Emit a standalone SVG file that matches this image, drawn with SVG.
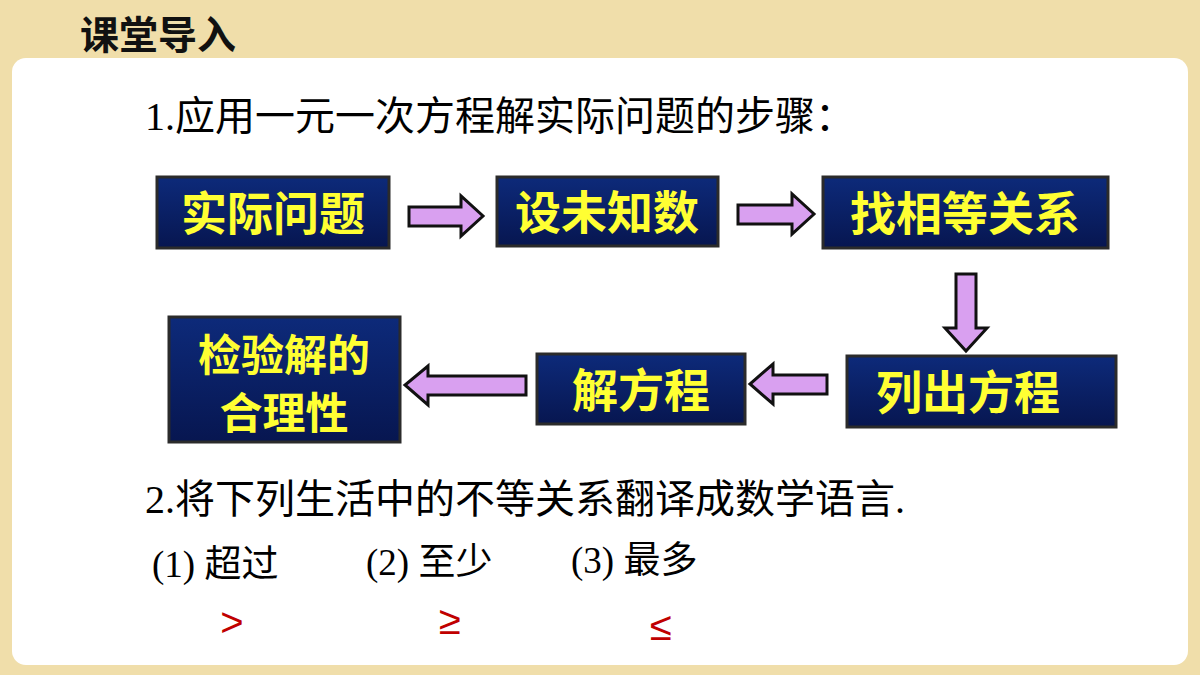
<svg xmlns="http://www.w3.org/2000/svg" width="1200" height="675" viewBox="0 0 1200 675">
<defs>
<linearGradient id="bg" x1="0" y1="0" x2="0" y2="1"><stop offset="0" stop-color="#0d2a7a"/><stop offset="1" stop-color="#071650"/></linearGradient>
<style>
.box{fill:url(#bg);stroke:#2b2b2b;stroke-width:3}
.bt{font-family:"Noto Sans CJK SC",sans-serif;font-weight:bold;font-size:46px;fill:#ffff33;text-anchor:middle}
.bt2{font-size:43px}
.arr{fill:#d9a0f0;stroke:#111;stroke-width:3;stroke-linejoin:miter}
.tx{font-family:"Liberation Serif","Noto Sans CJK SC",serif;font-size:40px;fill:#000}
.sub{font-family:"Liberation Serif","Noto Sans CJK SC",serif;font-size:37px;fill:#000}
.red{font-family:"Liberation Sans",sans-serif;font-size:40px;fill:#c00000;text-anchor:middle}
</style>
</defs>
<rect width="1200" height="675" fill="#f0deaa"/>
<rect x="12" y="58" width="1176" height="607" rx="14" fill="#fff"/>
<text x="80" y="49" font-family="Noto Sans CJK SC,serif" font-size="39" font-weight="bold" fill="#111">课堂导入</text>
<text class="tx" x="145" y="130">1.应用一元一次方程解实际问题的步骤：</text>
<g id="n1"><rect class="box" x="157" y="177" width="232" height="71"/><text class="bt" x="273" y="230">实际问题</text></g>
<g id="n2"><rect class="box" x="497" y="177" width="221" height="69"/><text class="bt" x="607" y="229">设未知数</text></g>
<g id="n3"><rect class="box" x="823" y="177" width="285" height="71"/><text class="bt" x="965" y="230">找相等关系</text></g>
<g id="n4"><rect class="box" x="847" y="356" width="269" height="71"/><text class="bt" x="968" y="409">列出方程</text></g>
<g id="n5"><rect class="box" x="537" y="354" width="208" height="70"/><text class="bt" x="641" y="407">解方程</text></g>
<g id="n6"><rect class="box" x="169" y="317" width="231" height="125"/><text class="bt bt2" x="284" y="371">检验解的</text><text class="bt bt2" x="284" y="429">合理性</text></g>
<g id="connectors">
<polygon class="arr" points="409,207 461,207 461,196 483,216 461,236 461,226 409,226"/>
<polygon class="arr" points="738,205 792,205 792,194 814,214 792,234 792,224 738,224"/>
<polygon class="arr" points="956,274 976,274 976,328 987,328 966,351 945,328 956,328"/>
<polygon class="arr" points="827,375 773,375 773,364 750,384 773,404 773,394 827,394"/>
<polygon class="arr" points="526,376 428,376 428,366 405,385 428,405 428,395 526,395"/>
</g>
<text class="tx" x="145" y="513">2.将下列生活中的不等关系翻译成数学语言.</text>
<text class="sub" x="152" y="577">(1) 超过</text>
<text class="sub" x="366" y="575">(2) 至少</text>
<text class="sub" x="571" y="573">(3) 最多</text>
<text class="red" x="232" y="636">&gt;</text>
<text class="red" x="450" y="634">≥</text>
<text class="red" x="661" y="640">≤</text>
</svg>
